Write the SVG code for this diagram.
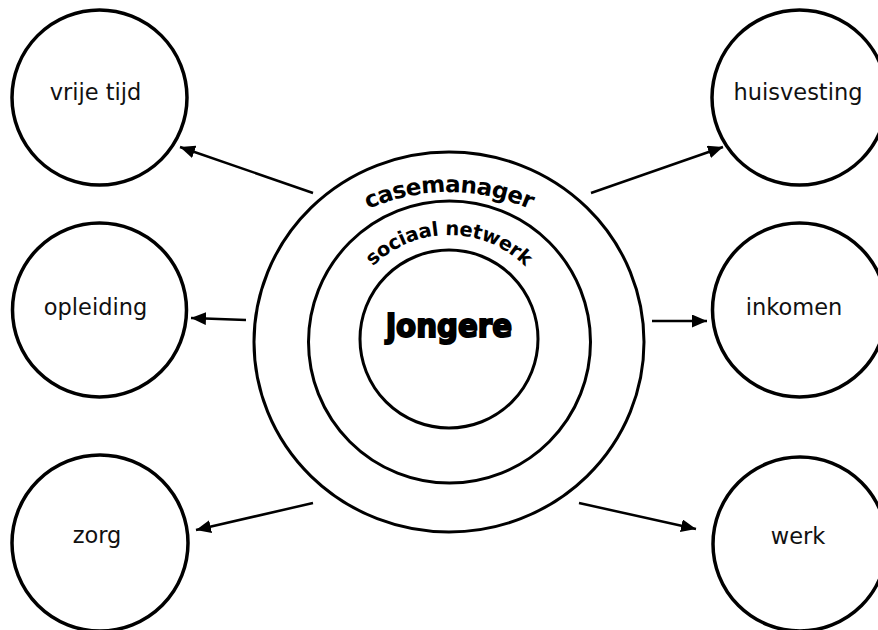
<svg xmlns="http://www.w3.org/2000/svg" width="878" height="630" viewBox="0 0 878 630">
<style>
.node circle{fill:#fff;stroke:#000;stroke-width:3.5}
.ring{fill:none;stroke:#000;stroke-width:3}
.lbl{font-family:"DejaVu Sans",Verdana,sans-serif;font-size:22.5px;fill:#111;text-anchor:middle}
.arc{font-family:"DejaVu Sans",Verdana,sans-serif;font-weight:bold;fill:#000}
.conn line{stroke:#000;stroke-width:2.5;marker-end:url(#ah)}
</style>
<defs>
<marker id="ah" markerUnits="userSpaceOnUse" markerWidth="16" markerHeight="14" refX="15" refY="6.5" orient="auto">
<path d="M0,0 L15,6.5 L0,13 z" fill="#000"/>
</marker>
<path id="pCase" d="M 249,392 A 200 200 0 0 1 649,392"/>
<path id="pSoc" d="M 341,343 A 108 108 0 0 1 557,343"/>
</defs>
<rect width="878" height="630" fill="#fff"/>
<g id="center">
<ellipse class="ring" cx="449" cy="342" rx="195" ry="190"/>
<circle class="ring" cx="449.5" cy="342" r="141"/>
<circle class="ring" cx="449" cy="339" r="89"/>
<text class="arc" font-size="23" letter-spacing="-0.6"><textPath href="#pCase" startOffset="50%" text-anchor="middle">casemanager</textPath></text>
<text class="arc" font-size="19.5" letter-spacing="-0.3"><textPath href="#pSoc" startOffset="50%" text-anchor="middle">sociaal netwerk</textPath></text>
<text x="449" y="337" font-family="'DejaVu Sans',sans-serif" font-weight="bold" font-size="32" text-anchor="middle" textLength="126" lengthAdjust="spacingAndGlyphs" stroke="#000" stroke-width="2">jongere</text>
</g>
<g id="vrije-tijd" class="node"><circle cx="99.5" cy="97.5" r="87.5"/><text class="lbl" x="95.5" y="100">vrije tijd</text></g>
<g id="opleiding" class="node"><circle cx="99.5" cy="310" r="87"/><text class="lbl" x="95.5" y="315">opleiding</text></g>
<g id="zorg" class="node"><circle cx="100" cy="543" r="88"/><text class="lbl" x="97" y="543">zorg</text></g>
<g id="huisvesting" class="node"><circle cx="799.5" cy="97.5" r="87.5"/><text class="lbl" x="798" y="100">huisvesting</text></g>
<g id="inkomen" class="node"><circle cx="799.5" cy="310" r="87"/><text class="lbl" x="794" y="315">inkomen</text></g>
<g id="werk" class="node"><circle cx="800" cy="544" r="87"/><text class="lbl" x="798" y="544">werk</text></g>
<g id="connectors" class="conn">
<line x1="313" y1="193" x2="180" y2="147"/>
<line x1="246" y1="320" x2="191" y2="318"/>
<line x1="313" y1="503" x2="196" y2="530"/>
<line x1="591" y1="193" x2="723" y2="147"/>
<line x1="652" y1="321" x2="707" y2="321"/>
<line x1="579" y1="503" x2="696" y2="529"/>
</g>
</svg>
